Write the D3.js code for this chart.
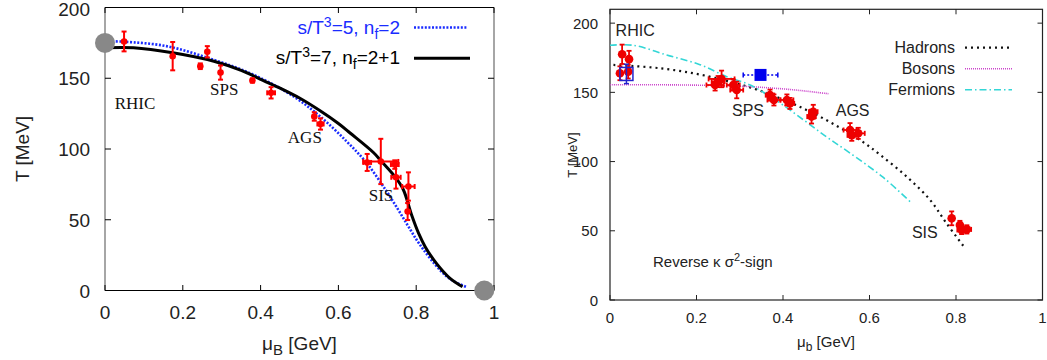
<!DOCTYPE html>
<html><head><meta charset="utf-8">
<script src="https://cdn.jsdelivr.net/npm/d3@7"></script>
<style>body{margin:0;background:#fff}svg{display:block}</style>
</head><body>
<svg id="c" width="1047" height="360"></svg>
<script>
// ---------- LEFT PANEL DATA ----------
const leftXTicks = [0, 0.2, 0.4, 0.6, 0.8, 1];
const leftYTicks = [0, 50, 100, 150, 200];
// curve s/T^3=5, nf=2  [muB, T]
const curveS5 = [[0,176.2],[0.05,175.8],[0.158,172.7],[0.278,163.2],[0.381,152.6],[0.484,137.3],[0.553,123],[0.621,105.4],[0.673,90],[0.724,70],[0.754,57],[0.78,45.2],[0.81,32.2],[0.861,14.5],[0.891,7.4],[0.928,2.7]];
// curve s/T^3=7, nf=2+1
const curveS7 = [[0,171.5],[0.073,171.5],[0.174,168],[0.28,162],[0.35,155.5],[0.406,148.5],[0.45,143],[0.5,136],[0.553,127],[0.6,118],[0.63,111.3],[0.69,97.5],[0.711,91.2],[0.745,80.6],[0.767,71.2],[0.788,53.5],[0.806,40.5],[0.823,31],[0.853,18.8],[0.887,8.6],[0.919,2.7]];
// freeze-out points [muB, T, dMu, dT]
const leftPoints = [[0.049,176,0,7],[0.174,165.6,0,10],[0.245,158.5,0,2],[0.263,168.7,0,4],[0.297,154,0,5],[0.379,148.4,0,1.5],[0.427,139.7,0.01,4],[0.538,123,0,3],[0.554,117.7,0.008,4],[0.674,90.5,0.01,6],[0.709,91.2,0.045,16],[0.745,89,0.01,3],[0.748,80,0.012,8],[0.78,73.5,0.016,10],[0.778,55.8,0,6]];
const greyDots = [[0,175],[0.975,0]];
const leftLabels = [["RHIC",0.025,128],["SPS",0.27,138],["AGS",0.47,104],["SIS",0.678,63]];

// ---------- RIGHT PANEL DATA ----------
const rightXTicks = [0, 0.2, 0.4, 0.6, 0.8, 1];
const rightYTicks = [0, 50, 100, 150, 200];
const hadrons = [[0.008,169.8],[0.116,167.4],[0.224,161.8],[0.347,151.2],[0.47,134.9],[0.578,115.6],[0.624,105],[0.686,89.1],[0.74,72.3],[0.778,55.4],[0.821,37.4]];
const bosons = [[0,155.5],[0.1,155.5],[0.2,155.2],[0.3,154.5],[0.4,152.5],[0.45,151],[0.505,149]];
const fermions = [[0,184],[0.054,184],[0.131,177],[0.208,170],[0.27,161.3],[0.324,155.3],[0.385,144],[0.45,129.5],[0.5,118],[0.551,107],[0.632,88.5],[0.694,71]];
const rightPoints = [[0.028,177.5,0.005,7],[0.044,174,0.005,6],[0.023,163.8,0.005,5],[0.042,165,0.005,5],
 [0.243,155.3,0.02,4],[0.258,159.7,0.03,6],[0.25,157.8,0.015,4],[0.293,151.7,0.015,6],[0.285,155.3,0.015,4],
 [0.37,148,0.01,4],[0.379,144.5,0.015,4],[0.409,144.5,0.015,4],[0.416,142,0.01,4],[0.47,136,0.01,5],[0.466,132.5,0.01,5],
 [0.555,122.8,0.015,5],[0.574,120.4,0.015,4],[0.559,119,0.01,4],
 [0.79,59,0.005,5],[0.809,54.2,0.005,3],[0.813,50.6,0.01,3],[0.825,51,0.01,3]];
const openSquare = [[0.038,163.3,0,7]];
const filledSquare = [[0.348,162.6,0.04,0]];
const rightLabels = [["RHIC",0.013,191],["SPS",0.282,133],["AGS",0.522,133],["SIS",0.698,45]];
const legendRight = ["Hadrons","Bosons","Fermions"];

const svg = d3.select("#c");

// =============== LEFT PANEL ===============
{
  const x = d3.scaleLinear().domain([0,1]).range([105,494]);
  const y = d3.scaleLinear().domain([0,200]).range([290.5,7.5]);
  const g = svg.append("g");
  const F = "Liberation Sans, Arial, sans-serif";
  // frame
  g.append("line").attr("x1",105).attr("x2",494).attr("y1",7.5).attr("y2",7.5).attr("stroke","#000").attr("stroke-width",1.2);
  g.append("line").attr("x1",105).attr("x2",494).attr("y1",290.5).attr("y2",290.5).attr("stroke","#000").attr("stroke-width",1.2);
  g.append("line").attr("x1",105).attr("x2",105).attr("y1",7.5).attr("y2",290.5).attr("stroke","#888").attr("stroke-width",1.5);
  g.append("line").attr("x1",494).attr("x2",494).attr("y1",7.5).attr("y2",290.5).attr("stroke","#888").attr("stroke-width",1.5);
  // ticks
  leftXTicks.forEach(t=>{
    g.append("line").attr("x1",x(t)).attr("x2",x(t)).attr("y1",290.5).attr("y2",285).attr("stroke","#000");
    g.append("line").attr("x1",x(t)).attr("x2",x(t)).attr("y1",7.5).attr("y2",13).attr("stroke","#000");
    g.append("text").attr("x",x(t)).attr("y",319).attr("text-anchor","middle").attr("font-family",F).attr("font-size",19).attr("fill","#222").text(t);
  });
  leftYTicks.forEach(t=>{
    g.append("line").attr("x1",105).attr("x2",111).attr("y1",y(t)).attr("y2",y(t)).attr("stroke","#000");
    g.append("line").attr("x1",494).attr("x2",488).attr("y1",y(t)).attr("y2",y(t)).attr("stroke","#000");
    g.append("text").attr("x",90).attr("y",Math.max(y(t)+7,16)).attr("text-anchor","end").attr("font-family",F).attr("font-size",19).attr("fill","#222").text(t);
  });
  // axis titles
  const xt = g.append("text").attr("x",299.5).attr("y",350).attr("text-anchor","middle").attr("font-family",F).attr("font-size",19).attr("fill","#222");
  xt.append("tspan").text("μ");
  xt.append("tspan").attr("dy",5).attr("font-size",15).text("B");
  xt.append("tspan").attr("dy",-5).text(" [GeV]");
  g.append("text").attr("transform","translate(29,149) rotate(-90)").attr("text-anchor","middle").attr("font-family",F).attr("font-size",19).attr("fill","#222").text("T [MeV]");

  const line = d3.line().x(d=>x(d[0])).y(d=>y(d[1])).curve(d3.curveCatmullRom.alpha(0.5));
  g.append("path").attr("d",line(curveS5)).attr("fill","none").attr("stroke","#1a2cff").attr("stroke-width",2.6).attr("stroke-dasharray","2,1.6");
  g.append("path").attr("d",line(curveS7)).attr("fill","none").attr("stroke","#000").attr("stroke-width",3);

  // error bars + points
  const red = "#f00";
  leftPoints.forEach(p=>{
    const cx=x(p[0]), cy=y(p[1]);
    if(p[3]>0){
      g.append("line").attr("x1",cx).attr("x2",cx).attr("y1",y(p[1]+p[3])).attr("y2",y(p[1]-p[3])).attr("stroke",red).attr("stroke-width",2);
      [p[1]+p[3],p[1]-p[3]].forEach(v=>g.append("line").attr("x1",cx-2.5).attr("x2",cx+2.5).attr("y1",y(v)).attr("y2",y(v)).attr("stroke",red).attr("stroke-width",2));
    }
    if(p[2]>0){
      g.append("line").attr("x1",x(p[0]-p[2])).attr("x2",x(p[0]+p[2])).attr("y1",cy).attr("y2",cy).attr("stroke",red).attr("stroke-width",2);
      [p[0]-p[2],p[0]+p[2]].forEach(v=>g.append("line").attr("x1",x(v)).attr("x2",x(v)).attr("y1",cy-2.5).attr("y2",cy+2.5).attr("stroke",red).attr("stroke-width",2));
    }
    g.append("circle").attr("cx",cx).attr("cy",cy).attr("r",3.3).attr("fill",red);
  });
  greyDots.forEach(p=>g.append("circle").attr("cx",x(p[0])).attr("cy",y(p[1])).attr("r",10).attr("fill","#888"));
  leftLabels.forEach(l=>g.append("text").attr("x",x(l[1])).attr("y",y(l[2])).attr("font-family","Liberation Serif, Times New Roman, serif").attr("font-size",17).attr("fill","#111").text(l[0]));

  // legend
  const l1 = g.append("text").attr("x",400).attr("y",34).attr("text-anchor","end").attr("font-family",F).attr("font-size",19).attr("fill","#1a2cff");
  l1.append("tspan").text("s/T");
  l1.append("tspan").attr("dy",-7).attr("font-size",14).text("3");
  l1.append("tspan").attr("dy",7).text("=5, n");
  l1.append("tspan").attr("dy",5).attr("font-size",14).text("f");
  l1.append("tspan").attr("dy",-5).text("=2");
  const l2 = g.append("text").attr("x",400).attr("y",64).attr("text-anchor","end").attr("font-family",F).attr("font-size",19).attr("fill","#000");
  l2.append("tspan").text("s/T");
  l2.append("tspan").attr("dy",-7).attr("font-size",14).text("3");
  l2.append("tspan").attr("dy",7).text("=7, n");
  l2.append("tspan").attr("dy",5).attr("font-size",14).text("f");
  l2.append("tspan").attr("dy",-5).text("=2+1");
  g.append("line").attr("x1",414).attr("x2",468).attr("y1",27.5).attr("y2",27.5).attr("stroke","#1a2cff").attr("stroke-width",2.6).attr("stroke-dasharray","2,1.6");
  g.append("line").attr("x1",414).attr("x2",470).attr("y1",58.3).attr("y2",58.3).attr("stroke","#000").attr("stroke-width",3);
}

// =============== RIGHT PANEL ===============
{
  const x = d3.scaleLinear().domain([0,1]).range([610,1042.5]);
  const y = d3.scaleLinear().domain([0,210]).range([300,9.3]);
  const g = svg.append("g");
  const F = "Liberation Sans, Arial, sans-serif";
  g.append("rect").attr("x",610).attr("y",9.3).attr("width",432.5).attr("height",290.7).attr("fill","none").attr("stroke","#222").attr("stroke-width",1.2);
  rightXTicks.forEach(t=>{
    g.append("line").attr("x1",x(t)).attr("x2",x(t)).attr("y1",300).attr("y2",295).attr("stroke","#222");
    g.append("line").attr("x1",x(t)).attr("x2",x(t)).attr("y1",9.3).attr("y2",14.3).attr("stroke","#222");
    g.append("text").attr("x",x(t)).attr("y",323).attr("text-anchor","middle").attr("font-family",F).attr("font-size",15).attr("fill","#222").text(t);
  });
  rightYTicks.forEach(t=>{
    g.append("line").attr("x1",610).attr("x2",615).attr("y1",y(t)).attr("y2",y(t)).attr("stroke","#222");
    g.append("line").attr("x1",1042.5).attr("x2",1037.5).attr("y1",y(t)).attr("y2",y(t)).attr("stroke","#222");
    g.append("text").attr("x",598).attr("y",y(t)+5.5).attr("text-anchor","end").attr("font-family",F).attr("font-size",15).attr("fill","#222").text(t);
  });
  const xt = g.append("text").attr("x",826).attr("y",347).attr("text-anchor","middle").attr("font-family",F).attr("font-size",15).attr("fill","#222");
  xt.append("tspan").text("μ");
  xt.append("tspan").attr("dy",4).attr("font-size",12).text("b");
  xt.append("tspan").attr("dy",-4).text(" [GeV]");
  g.append("text").attr("transform","translate(577,155) rotate(-90)").attr("text-anchor","middle").attr("font-family",F).attr("font-size",13).attr("fill","#222").text("T [MeV]");

  const line = d3.line().x(d=>x(d[0])).y(d=>y(d[1])).curve(d3.curveCatmullRom.alpha(0.5));
  const sty = [
    {d:hadrons, c:"#111", w:2.2, da:"2,4"},
    {d:bosons, c:"#cc44cc", w:1.6, da:"1,1"},
    {d:fermions, c:"#33d6d6", w:1.6, da:"7,3,1.5,3"}
  ];
  sty.forEach(s=>g.append("path").attr("d",line(s.d)).attr("fill","none").attr("stroke",s.c).attr("stroke-width",s.w).attr("stroke-dasharray",s.da));

  // legend
  legendRight.forEach((name,i)=>{
    const yy = 47.7 + i*21;
    g.append("text").attr("x",955).attr("y",yy+5.5).attr("text-anchor","end").attr("font-family",F).attr("font-size",16).attr("fill","#222").text(name);
    g.append("line").attr("x1",965).attr("x2",1012).attr("y1",yy).attr("y2",yy).attr("stroke",sty[i].c).attr("stroke-width",sty[i].w).attr("stroke-dasharray",sty[i].da);
  });

  const red = "#ee0000";
  function errbars(p,col,w,da){
    const cx=x(p[0]), cy=y(p[1]);
    if(p[3]>0){
      g.append("line").attr("x1",cx).attr("x2",cx).attr("y1",y(p[1]+p[3])).attr("y2",y(p[1]-p[3])).attr("stroke",col).attr("stroke-width",w).attr("stroke-dasharray",da);
      [p[1]+p[3],p[1]-p[3]].forEach(v=>g.append("line").attr("x1",cx-2.5).attr("x2",cx+2.5).attr("y1",y(v)).attr("y2",y(v)).attr("stroke",col).attr("stroke-width",w));
    }
    if(p[2]>0){
      g.append("line").attr("x1",x(p[0]-p[2])).attr("x2",x(p[0]+p[2])).attr("y1",cy).attr("y2",cy).attr("stroke",col).attr("stroke-width",w).attr("stroke-dasharray",da);
      [p[0]-p[2],p[0]+p[2]].forEach(v=>g.append("line").attr("x1",x(v)).attr("x2",x(v)).attr("y1",cy-2.5).attr("y2",cy+2.5).attr("stroke",col).attr("stroke-width",w));
    }
  }
  rightPoints.forEach(p=>{
    errbars(p,red,1.8,null);
    g.append("circle").attr("cx",x(p[0])).attr("cy",y(p[1])).attr("r",4.3).attr("fill",red);
  });
  openSquare.forEach(p=>{
    errbars(p,"#2222cc",1.5,null);
    g.append("rect").attr("x",x(p[0])-6.5).attr("y",y(p[1])-6.5).attr("width",13).attr("height",13).attr("fill","none").attr("stroke","#2222cc").attr("stroke-width",1.5);
  });
  filledSquare.forEach(p=>{
    errbars(p,"#0000ee",1.5,"2,2");
    g.append("rect").attr("x",x(p[0])-6).attr("y",y(p[1])-6).attr("width",12).attr("height",12).attr("fill","#0000ee");
  });
  rightLabels.forEach(l=>g.append("text").attr("x",x(l[1])).attr("y",y(l[2])).attr("font-family",F).attr("font-size",16).attr("fill","#222").text(l[0]));
  const rv = g.append("text").attr("x",653).attr("y",267).attr("font-family",F).attr("font-size",15).attr("fill","#222");
  rv.append("tspan").text("Reverse κ σ");
  rv.append("tspan").attr("dy",-6).attr("font-size",11).text("2");
  rv.append("tspan").attr("dy",6).text("-sign");
}
</script>
</body></html>
